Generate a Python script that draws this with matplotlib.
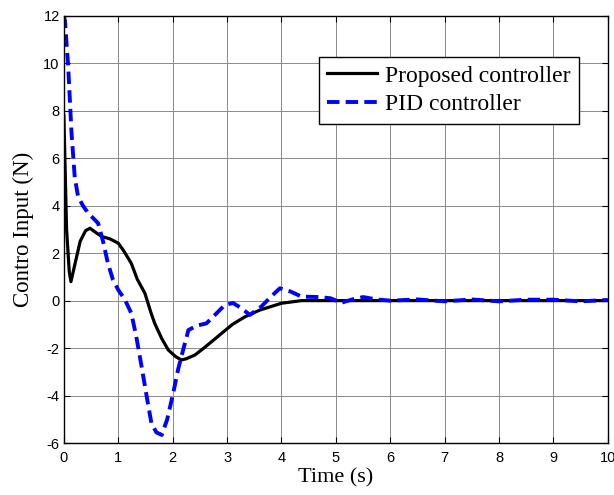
import matplotlib
matplotlib.use("Agg")
import matplotlib.pyplot as plt

# Proposed controller (black solid)
t_prop = [0, 0.05, 0.1, 0.13, 0.2, 0.3, 0.4, 0.48, 0.6, 0.7, 0.85, 1.0, 1.1, 1.24, 1.35,
          1.49, 1.6, 1.67, 1.8, 1.92, 2.05, 2.16, 2.25, 2.41, 2.6, 2.9, 3.1, 3.33, 3.6,
          4.0, 4.37, 5, 6, 7, 8, 9, 10]
u_prop = [7.8, 3.0, 1.2, 0.8, 1.5, 2.5, 2.95, 3.05, 2.85, 2.7, 2.6, 2.42, 2.1, 1.57, 0.9,
          0.31, -0.5, -0.96, -1.6, -2.08, -2.35, -2.5, -2.45, -2.29, -1.95, -1.38, -1.0,
          -0.68, -0.4, -0.11, 0, 0, 0, 0, 0, 0, 0]

# PID controller (blue dashed)
t_pid = [0, 0.02, 0.08, 0.14, 0.2, 0.26, 0.35, 0.45, 0.55, 0.63, 0.72, 0.81, 0.9, 1.0,
         1.12, 1.24, 1.33, 1.43, 1.52, 1.61, 1.7, 1.8, 1.9, 2.01, 2.1, 2.16, 2.29, 2.45,
         2.62, 2.8, 2.96, 3.11, 3.25, 3.42, 3.63, 3.8, 3.97, 4.15, 4.37, 4.7, 4.9, 5.1,
         5.3, 5.5, 5.75, 6.0, 6.5, 7.0, 7.5, 8.0, 8.5, 9.0, 9.5, 10]
u_pid = [12, 11.8, 9.86, 7.1, 5.2, 4.4, 4.0, 3.68, 3.45, 3.26, 2.5, 1.57, 0.9, 0.45,
         0.05, -0.53, -1.5, -2.79, -4.0, -5.17, -5.55, -5.66, -5.0, -3.9, -2.9, -2.36,
         -1.24, -1.05, -0.96, -0.55, -0.18, -0.1, -0.3, -0.6, -0.25, 0.15, 0.52, 0.4,
         0.17, 0.15, 0.1, -0.09, 0.05, 0.15, 0.05, 0.0, 0.05, -0.03, 0.05, -0.03, 0.04,
         0.04, -0.03, 0.03]

x_ticks = list(range(0, 11))
y_ticks = list(range(-6, 13, 2))

plt.rcParams['axes.unicode_minus'] = False
plt.rcParams['font.family'] = ['Liberation Sans', 'DejaVu Sans']

fig = plt.figure(figsize=(6.14, 4.95), dpi=100)
ax = fig.add_axes([0.104, 0.105, 0.886, 0.863])

ax.plot(t_prop, u_prop, color='black', linewidth=2.3, label='Proposed controller')
ax.plot(t_pid, u_pid, color='blue', linewidth=2.8, linestyle=(0, (3.2, 1.6)),
        label='PID controller')

ax.set_xlim(0, 10)
ax.set_ylim(-6, 12)
ax.set_xticks(x_ticks)
ax.set_yticks(y_ticks)
ax.grid(True, color='#8a8a8a', linewidth=0.7, linestyle='-')
ax.set_axisbelow(True)
ax.tick_params(direction='in', length=4, width=0.8, top=True, right=True,
               labelsize=10.5, pad=3)
ax.tick_params(axis='x', pad=6)
for s in ax.spines.values():
    s.set_linewidth(1.0)

serif = ['Liberation Serif', 'DejaVu Serif']
ax.set_xlabel('Time (s)', family=serif, fontsize=16, labelpad=2)
ax.set_ylabel('Contro Input (N)', family=serif, fontsize=16.5, labelpad=7)

leg = ax.legend(loc='upper right', bbox_to_anchor=(0.947, 0.904),
                prop={'family': serif, 'size': 17}, fancybox=False, framealpha=1,
                edgecolor='black', handlelength=2.1, borderpad=0.35,
                labelspacing=0.3, handletextpad=0.35, borderaxespad=0)
leg.get_frame().set_linewidth(1.0)

fig.savefig('out.png', dpi=100)
